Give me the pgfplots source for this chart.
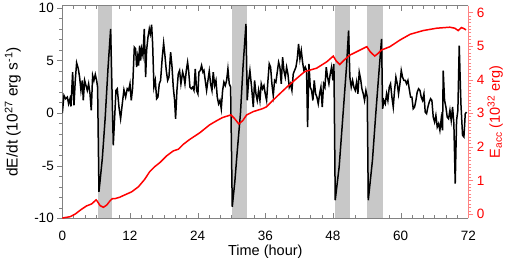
\documentclass[border=0pt]{standalone}
\usepackage{fontspec}
\setmainfont{Liberation Sans}
\usepackage{pgfplots}
\pgfplotsset{compat=1.18}
\usetikzlibrary{calc}

\definecolor{bandgray}{RGB}{200,200,200}
\definecolor{framegray}{RGB}{130,130,130}
\definecolor{pinkax}{RGB}{255,130,130}
\definecolor{ered}{RGB}{255,0,0}

\pgfplotsset{
  base/.style={width=406pt,height=212.6pt,scale only axis,xmin=0,xmax=72,
    /pgf/number format/assume math mode=true,
    tick label style={font=\fontsize{13.5}{15}\selectfont},
    major tick length=5pt,minor tick length=3pt},
}

\begin{document}
\begin{tikzpicture}
% x axis, frame and the shaded intervals
\begin{axis}[base,name=ax,ymin=-10,ymax=10.2,
  axis x line=box,axis y line=none,
  xtick={0,12,...,72},minor x tick num=5,tick align=inside,
  axis line style={framegray},tick style={framegray},
  xticklabel style={yshift=-9pt},
  xlabel={Time (hour)},
  xlabel style={font=\fontsize{14.5}{17}\selectfont,at={(axis description cs:0.5,-0.158)},anchor=center}]
\addplot[fill=bandgray,draw=none] coordinates {(6.33,-10)(8.87,-10)(8.87,10.2)(6.33,10.2)} -- cycle;
\addplot[fill=bandgray,draw=none] coordinates {(30.1,-10)(32.75,-10)(32.75,10.2)(30.1,10.2)} -- cycle;
\addplot[fill=bandgray,draw=none] coordinates {(48.35,-10)(51.0,-10)(51.0,10.2)(48.35,10.2)} -- cycle;
\addplot[fill=bandgray,draw=none] coordinates {(54.1,-10)(56.8,-10)(56.8,10.2)(54.1,10.2)} -- cycle;
\end{axis}

% left axis: dE/dt
\begin{axis}[base,ymin=-10,ymax=10.2,
  axis x line=none,axis y line*=left,
  ytick={-10,-5,0,5,10},minor y tick num=4,tick align=outside,
  axis line style={framegray},tick style={framegray},
  ylabel={dE/dt (10\textsuperscript{27} erg s\textsuperscript{-1})},
  ylabel style={font=\fontsize{15.5}{18}\selectfont,at={(axis description cs:-0.122,0.5)},anchor=center}]
\addplot[black,line width=1.5pt] coordinates {
(0,0)(0.30,1.67)(0.59,1.36)(0.89,1.52)(1.12,0.88)(1.36,1.36)(1.54,0.63)(1.83,3.89)
(2.07,0.73)(2.30,3.10)(2.54,4.77)(2.84,4.20)(3.07,3.41)(3.31,2.15)(3.55,3.10)(3.72,1.20)
(3.96,3.10)(4.20,2.62)(4.43,2.15)(4.67,2.78)(4.91,1.83)(5.14,0.25)(5.38,3.57)(5.61,3.10)
(5.85,3.67)(6.09,3.10)(6.26,2.46)(6.50,-7.49)(7.1,-4.3)(7.6,-0.5)(8.1,4.2)(8.57,7.99)
(9.04,-3.06)(9.52,2.15)(9.75,2.31)(10.05,0.57)(10.34,-0.54)(10.64,0.88)(10.93,2.21)
(11.23,1.52)(11.52,2.31)(11.76,2.15)(12.0,2.78)(12.23,1.20)(12.47,2.40)(12.77,6.26)
(13.0,6.10)(13.18,4.36)(13.36,5.31)(13.53,4.52)(13.71,6.41)(13.89,4.99)(14.07,6.10)
(14.30,5.47)(14.54,7.99)(14.78,3.41)(14.95,5.94)(15.19,7.20)(15.43,7.99)(15.60,7.52)
(15.84,8.40)(16.02,6.57)(16.25,2.46)(16.49,3.10)(16.73,1.36)(16.96,1.52)(17.20,2.78)
(17.43,3.10)(17.73,5.31)(17.97,6.64)(18.20,5.47)(18.44,4.04)(18.68,3.10)(18.91,3.41)
(19.21,5.78)(19.44,4.52)(19.68,2.46)(19.92,1.20)(20.09,-0.54)(20.33,2.15)(20.57,3.73)
(20.80,4.04)(21.04,2.78)(21.34,3.89)(21.57,3.41)(21.75,2.78)(21.99,4.04)(22.22,4.83)
(22.40,4.04)(22.64,2.46)(22.87,2.31)(23.11,2.46)(23.35,2.15)(23.58,4.20)(23.82,2.15)
(24.05,1.83)(24.23,3.89)(24.47,4.04)(24.70,4.52)(24.94,3.89)(25.12,4.04)(25.35,3.10)
(25.59,2.15)(25.83,3.10)(26.06,3.98)(26.30,2.78)(26.54,2.15)(26.77,3.89)(27.01,2.62)
(27.25,3.10)(27.48,1.52)(27.72,0.88)(27.96,1.20)(28.19,0.41)(28.43,2.15)(28.66,2.94)
(28.90,2.62)(29.14,3.10)(29.37,4.20)(29.61,2.78)(29.85,2.46)(30.14,-8.91)(30.6,-6.5)
(31.0,-3.8)(31.6,0)(32.05,4.4)(32.57,8.47)(32.80,1.20)(33.04,3.10)(33.27,4.04)(33.57,2.46)
(33.87,0.57)(34.10,3.10)(34.34,1.83)(34.57,1.20)(34.81,2.15)(35.05,1.20)(35.28,2.78)
(35.52,2.31)(35.76,2.62)(35.99,1.83)(36.23,1.20)(36.47,3.10)(36.70,4.68)(36.94,4.36)
(37.17,2.78)(37.41,1.67)(37.65,3.10)(37.88,2.94)(38.12,3.89)(38.36,4.83)(38.59,4.36)
(38.83,2.78)(39.07,5.31)(39.30,4.04)(39.54,3.41)(39.78,4.36)(40.01,3.73)(40.25,2.46)
(40.48,2.78)(40.72,2.15)(40.96,3.73)(41.19,4.04)(41.43,4.36)(41.67,5.15)(41.90,6.57)
(42.14,5.15)(42.38,5.94)(42.61,4.83)(42.85,4.04)(43.09,4.36)(43.32,4.04)(43.50,-1.33)
(43.74,4.68)(43.97,2.46)(44.21,2.15)(44.44,1.20)(44.68,3.10)(44.92,1.83)(45.15,1.52)
(45.39,0.88)(45.63,1.83)(45.86,2.46)(46.10,0.57)(46.34,2.78)(46.57,2.46)(46.81,4.36)
(47.04,3.41)(47.28,2.78)(47.52,3.73)(47.75,4.36)(47.99,3.10)(48.17,4.68)(48.40,-8.28)
(49.1,-5.1)(49.8,0)(50.4,4.4)(50.77,7.84)(51.00,3.41)(51.24,2.46)(51.48,3.10)(51.71,2.46)
(51.95,2.15)(52.19,2.94)(52.42,1.83)(52.66,3.89)(52.90,3.25)(53.13,2.31)(53.37,1.83)
(53.60,1.20)(53.84,2.15)(54.08,1.52)(54.26,-8.28)(55.0,-4.5)(55.6,0)(56.2,4.2)(56.62,7.05)
(56.80,0.41)(57.03,1.20)(57.27,0.88)(57.51,1.83)(57.74,1.20)(57.98,2.46)(58.21,2.78)
(58.45,1.52)(58.69,0.57)(58.92,2.15)(59.16,3.41)(59.40,2.78)(59.63,1.83)(59.87,2.78)
(60.11,4.04)(60.34,3.41)(60.58,3.10)(60.82,3.10)(61.05,2.78)(61.29,3.10)(61.52,2.31)
(61.76,1.52)(62.00,1.52)(62.23,0.41)(62.47,0.57)(62.71,1.20)(62.94,1.99)(63.18,2.31)
(63.42,2.15)(63.65,1.52)(63.89,1.20)(64.13,1.83)(64.36,0.09)(64.60,-0.06)(64.83,0.57)
(65.07,1.04)(65.31,1.36)(65.54,1.20)(65.78,-0.38)(66.02,-0.85)(66.25,-0.22)(66.49,-1.33)
(66.73,-1.01)(66.96,-1.64)(67.20,-0.54)(67.43,-1.64)(67.55,4.04)(67.79,1.20)(68.03,0.57)
(68.26,-0.38)(68.50,-0.54)(68.74,0.25)(68.97,-0.70)(69.21,0.57)(69.44,-1.01)(69.68,-6.70)
(69.92,-0.70)(70.15,0.25)(70.39,6.41)(70.69,0.88)(70.98,-2.12)(71.22,-2.27)(71.46,-0.06)
(71.69,0.09)
};
\end{axis}

% right axis: accumulated energy
\begin{axis}[base,ymin=-0.128,ymax=6.2,
  axis x line=none,axis y line*=right,
  ytick={0,1,...,6},minor y tick num=9,tick align=outside,
  axis line style={pinkax},tick style={pinkax},
  yticklabel style={text=ered},
  ylabel={E\textsubscript{acc} (10\textsuperscript{32} erg)},
  ylabel style={font=\fontsize{14.5}{17}\selectfont,text=ered,at={(axis description cs:1.066,0.5)},anchor=center}]
\addplot[ered,line width=1.5pt] coordinates {
(0,-0.12)(1.4,-0.08)(2.3,0.0)(3.4,0.14)(4.3,0.24)(5.2,0.3)(6.0,0.42)(6.2,0.38)(6.7,0.25)
(7.3,0.2)(7.9,0.27)(8.5,0.4)(8.9,0.46)(9.4,0.46)(10.2,0.5)(11.1,0.57)(12.3,0.66)(13.5,0.81)
(14.6,1.03)(15.5,1.26)(16.4,1.41)(17.3,1.53)(18.5,1.73)(19.7,1.88)(20.6,1.93)(21.5,2.08)
(22.6,2.22)(24.4,2.42)(26.1,2.65)(27.2,2.76)(28.4,2.87)(29.9,2.95)(30.5,2.85)(31.3,2.68)
(32.0,2.78)(32.7,2.95)(33.9,3.05)(35.6,3.14)(36.2,3.19)(38.0,3.49)(39.9,3.79)(41.6,4.04)
(43.0,4.24)(45.1,4.34)(46.9,4.53)(48.05,4.70)(48.6,4.55)(49.2,4.45)(50.1,4.6)(51.0,4.73)
(52.8,4.88)(54.0,4.98)(54.6,4.83)(55.4,4.70)(56.0,4.78)(56.6,4.88)(58.1,4.98)(59.9,5.18)
(61.7,5.35)(64.0,5.46)(66.4,5.53)(68.7,5.56)(69.6,5.53)(70.2,5.46)(70.8,5.55)(71.2,5.52)
(71.6,5.48)
};
\end{axis}

\pgfresetboundingbox
\path ($(ax.south west)+(-62.3pt,-46.7pt)$) rectangle ($(ax.north east)+(41.7pt,5.7pt)$);
\end{tikzpicture}
\end{document}
